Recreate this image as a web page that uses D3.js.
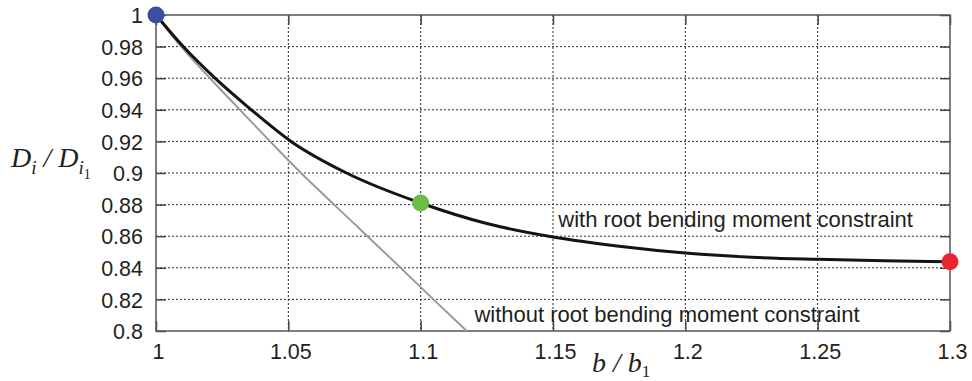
<!DOCTYPE html>
<html>
<head>
<meta charset="utf-8">
<script src="https://cdn.jsdelivr.net/npm/d3@7"></script>
<style>
  body { margin: 0; background: #fff; }
  svg { display: block; }
</style>
</head>
<body>
<svg id="chart" width="972" height="381"></svg>
<script>
// data
var xTicks = [1, 1.05, 1.1, 1.15, 1.2, 1.25, 1.3];
var xTickLabels = ["1", "1.05", "1.1", "1.15", "1.2", "1.25", "1.3"];
var yTicks = [0.8, 0.82, 0.84, 0.86, 0.88, 0.9, 0.92, 0.94, 0.96, 0.98, 1];
var yTickLabels = ["0.8", "0.82", "0.84", "0.86", "0.88", "0.9", "0.92", "0.94", "0.96", "0.98", "1"];

// with root bending moment constraint
var withX = [1, 1.0103, 1.0223, 1.036, 1.051, 1.072, 1.1, 1.125, 1.15, 1.175, 1.2, 1.225, 1.25, 1.275, 1.3];
var withY = [1, 0.98, 0.96, 0.94, 0.92, 0.9, 0.881, 0.868, 0.8595, 0.8537, 0.8494, 0.8467, 0.8454, 0.8445, 0.8438];

// without root bending moment constraint
var withoutX = [1, 1.0095, 1.0204, 1.0317, 1.0431, 1.0548, 1.0673, 1.0799, 1.0924, 1.1048, 1.1174];
var withoutY = [1, 0.98, 0.96, 0.94, 0.92, 0.9, 0.88, 0.86, 0.84, 0.82, 0.8];

// highlighted designs
var dotX = [1, 1.1, 1.3];
var dotY = [1, 0.881, 0.8438];
var dotColors = ["#3b4ea3", "#6bbd45", "#e8262b"];

var curveLabels = ["with root bending moment constraint", "without root bending moment constraint"];
var curveLabelX = [1.152, 1.1203];
var curveLabelY = [0.866, 0.8058];

var svg = d3.select("#chart");
var margin = {top: 15, right: 22, bottom: 50, left: 156};
var width = 972 - margin.left - margin.right,
    height = 381 - margin.top - margin.bottom;

var g = svg.append("g").attr("transform", "translate(" + margin.left + "," + margin.top + ")");

var x = d3.scaleLinear().domain([1, 1.3]).range([0, width]);
var y = d3.scaleLinear().domain([0.8, 1]).range([height, 0]);

var textColor = "#231f20";
var sans = "'Liberation Sans', Arial, sans-serif";
var serif = "'Liberation Serif', 'Times New Roman', serif";

// dotted grid, interior only
g.selectAll(".gx").data(xTicks.slice(1, -1)).enter().append("line")
  .attr("x1", function(d) { return x(d); }).attr("x2", function(d) { return x(d); })
  .attr("y1", 0).attr("y2", height)
  .attr("stroke", "#2a2a2a").attr("stroke-width", 1).attr("stroke-dasharray", "2,2");
g.selectAll(".gy").data(yTicks.slice(1, -1)).enter().append("line")
  .attr("x1", 0).attr("x2", width)
  .attr("y1", function(d) { return y(d); }).attr("y2", function(d) { return y(d); })
  .attr("stroke", "#2a2a2a").attr("stroke-width", 1).attr("stroke-dasharray", "2,2");

// axes with inward ticks on all four sides
var tick = 10;
g.append("g").attr("transform", "translate(0," + height + ")")
  .call(d3.axisBottom(x).tickValues(xTicks).tickSizeInner(-tick).tickSizeOuter(0)
    .tickFormat(function(d, i) { return xTickLabels[i]; }))
  .call(function(a) {
    a.select(".domain").remove();
    a.selectAll("line").attr("stroke", "#444").attr("stroke-width", 1.5);
    a.selectAll("text").attr("y", 13).attr("dx", 2).attr("dy", "0.71em")
      .attr("font-family", sans).attr("font-size", 21.5).attr("fill", textColor);
  });
g.append("g")
  .call(d3.axisTop(x).tickValues(xTicks).tickSizeInner(-tick).tickSizeOuter(0).tickFormat(""))
  .call(function(a) {
    a.select(".domain").remove();
    a.selectAll("line").attr("stroke", "#444").attr("stroke-width", 1.5);
  });
g.append("g")
  .call(d3.axisLeft(y).tickValues(yTicks).tickSizeInner(-tick).tickSizeOuter(0)
    .tickFormat(function(d, i) { return yTickLabels[i]; }))
  .call(function(a) {
    a.select(".domain").remove();
    a.selectAll("line").attr("stroke", "#444").attr("stroke-width", 1.5);
    a.selectAll("text").attr("x", -13).attr("dy", "0.36em")
      .attr("font-family", sans).attr("font-size", 21.5).attr("fill", textColor);
  });
g.append("g").attr("transform", "translate(" + width + ",0)")
  .call(d3.axisRight(y).tickValues(yTicks).tickSizeInner(-tick).tickSizeOuter(0).tickFormat(""))
  .call(function(a) {
    a.select(".domain").remove();
    a.selectAll("line").attr("stroke", "#444").attr("stroke-width", 1.5);
  });

// frame
g.append("rect").attr("width", width).attr("height", height)
  .attr("fill", "none").attr("stroke", "#555").attr("stroke-width", 1.5);

var line = d3.line()
  .x(function(d) { return x(d[0]); })
  .y(function(d) { return y(d[1]); })
  .curve(d3.curveMonotoneX);

g.append("path")
  .datum(d3.zip(withoutX, withoutY))
  .attr("fill", "none").attr("stroke", "#9a9a9a").attr("stroke-width", 2)
  .attr("d", line);

g.append("path")
  .datum(d3.zip(withX, withY))
  .attr("fill", "none").attr("stroke", "#141414").attr("stroke-width", 3)
  .attr("stroke-linejoin", "round").attr("stroke-linecap", "round")
  .attr("d", line);

g.selectAll(".dot").data(d3.zip(dotX, dotY, dotColors)).enter().append("circle")
  .attr("cx", function(d) { return x(d[0]); })
  .attr("cy", function(d) { return y(d[1]); })
  .attr("r", 8.5)
  .attr("fill", function(d) { return d[2]; });

// curve labels
g.selectAll(".clabel").data(curveLabels).enter().append("text")
  .attr("x", function(d, i) { return x(curveLabelX[i]); })
  .attr("y", function(d, i) { return y(curveLabelY[i]); })
  .attr("font-family", sans).attr("font-size", 22).attr("fill", textColor)
  .text(function(d) { return d; });

// axis titles: b / b1 and D_i / D_i1
var xt = svg.append("text").attr("x", 592).attr("y", 372)
  .attr("font-family", serif).attr("font-style", "italic").attr("font-size", 28).attr("fill", textColor);
xt.append("tspan").text("b / b");
xt.append("tspan").attr("font-style", "normal").attr("font-size", 17).attr("dy", 5).text("1");

var yt = svg.append("text").attr("x", 11).attr("y", 166.5)
  .attr("font-family", serif).attr("font-style", "italic").attr("font-size", 28).attr("fill", textColor);
yt.append("tspan").text("D");
yt.append("tspan").attr("font-size", 19).attr("dy", 7).text("i");
yt.append("tspan").attr("dy", -7).text(" / D");
yt.append("tspan").attr("font-size", 19).attr("dy", 7).text("i");
yt.append("tspan").attr("font-style", "normal").attr("font-size", 14).attr("dy", 5).text("1");
</script>
</body>
</html>
